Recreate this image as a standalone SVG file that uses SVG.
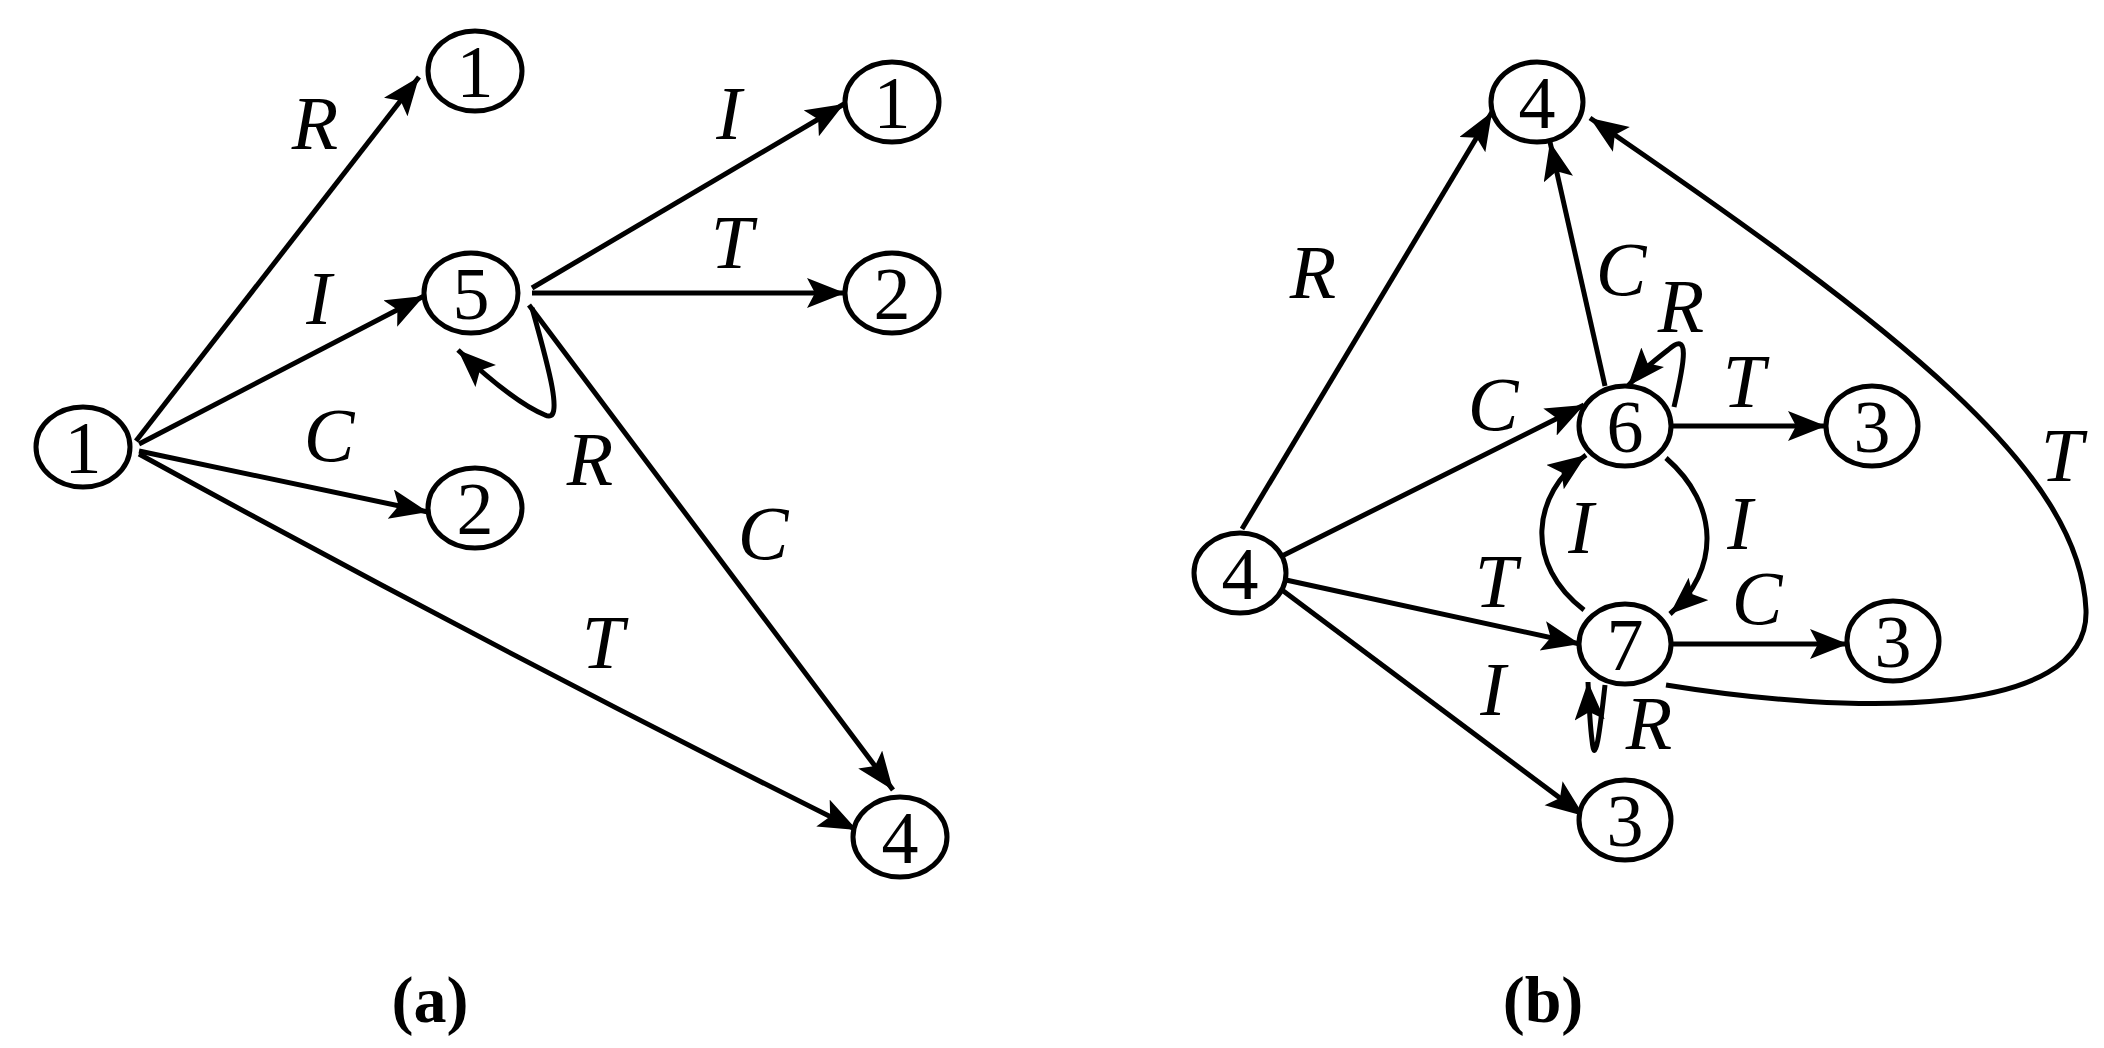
<svg xmlns="http://www.w3.org/2000/svg" width="2104" height="1048" viewBox="0 0 2104 1048">
<style>
.n ellipse{fill:#fff;stroke:#000;stroke-width:5}
.n text,.d{font-family:"Liberation Serif",serif;font-size:74px;text-anchor:middle}
.l{font-family:"Liberation Serif",serif;font-style:italic;font-size:76px;text-anchor:middle}
.cap{font-family:"Liberation Serif",serif;font-weight:bold;font-size:66px;text-anchor:middle}
#edges path{fill:none;stroke:#000;stroke-width:5;marker-end:url(#ah)}
</style>
<defs>
<marker id="ah" markerUnits="userSpaceOnUse" markerWidth="40" markerHeight="32" refX="38" refY="15" orient="auto">
<path d="M0,0 L38,15 L0,30 L8,15 Z" fill="#000"/>
</marker>
</defs>
<rect width="2104" height="1048" fill="#fff"/>
<g id="edges">
<path d="M136,441 L419,77"/>
<path d="M139,444 L424,296"/>
<path d="M139,451 L428,512"/>
<path d="M139,454 Q500,652 857,830"/>
<path d="M532,288 L844,104"/>
<path d="M532,293 L845,293"/>
<path d="M529,305 L893,790"/>
<path d="M532,308 C548,365 565,425 545,415 C520,405 490,380 458,350"/>
<path d="M1242,529 L1492,112"/>
<path d="M1605,386 L1550,142"/>
<path d="M1666,685 C1850,715 2090,720 2086,610 C2080,470 1900,330 1590,118"/>
<path d="M1282,556 L1584,405"/>
<path d="M1669,426 L1826,426"/>
<path d="M1286,580 L1580,644"/>
<path d="M1282,590 L1584,816"/>
<path d="M1669,644 L1848,644"/>
<path d="M1584,610 C1525,565 1530,495 1586,455"/>
<path d="M1666,458 C1720,505 1720,570 1670,614"/>
<path d="M1674,407 C1685,360 1690,330 1668,350 C1655,360 1640,372 1628,386"/>
<path d="M1605,685 C1600,730 1595,770 1592,740 C1590,725 1589,705 1588,682"/>
</g>
<g id="a1" class="n"><ellipse cx="83" cy="447" rx="47" ry="40"/><text x="83" y="473">1</text></g>
<g id="a1t" class="n"><ellipse cx="475" cy="71" rx="47" ry="40"/><text x="475" y="97">1</text></g>
<g id="a5" class="n"><ellipse cx="471" cy="293" rx="47" ry="40"/><text x="471" y="319">5</text></g>
<g id="a2" class="n"><ellipse cx="475" cy="508" rx="47" ry="40"/><text x="475" y="534">2</text></g>
<g id="a1r" class="n"><ellipse cx="892" cy="102" rx="47" ry="40"/><text x="892" y="128">1</text></g>
<g id="a2r" class="n"><ellipse cx="892" cy="293" rx="47" ry="40"/><text x="892" y="319">2</text></g>
<g id="a4" class="n"><ellipse cx="900" cy="837" rx="47" ry="40"/><text x="900" y="863">4</text></g>
<g id="b4t" class="n"><ellipse cx="1537" cy="102" rx="46" ry="40"/><text x="1537" y="128">4</text></g>
<g id="b4" class="n"><ellipse cx="1240" cy="573" rx="46" ry="40"/><text x="1240" y="599">4</text></g>
<g id="b6" class="n"><ellipse cx="1625" cy="426" rx="46" ry="40"/><text x="1625" y="452">6</text></g>
<g id="b3a" class="n"><ellipse cx="1872" cy="426" rx="46" ry="40"/><text x="1872" y="452">3</text></g>
<g id="b7" class="n"><ellipse cx="1625" cy="644" rx="46" ry="40"/><text x="1625" y="670">7</text></g>
<g id="b3b" class="n"><ellipse cx="1893" cy="641" rx="46" ry="40"/><text x="1893" y="667">3</text></g>
<g id="b3c" class="n"><ellipse cx="1625" cy="820" rx="46" ry="40"/><text x="1625" y="846">3</text></g>
<g id="labels">
<text class="l" x="315" y="149">R</text>
<text class="l" x="319" y="324">I</text>
<text class="l" x="329" y="461">C</text>
<text class="l" x="603" y="668">T</text>
<text class="l" x="590" y="485">R</text>
<text class="l" x="763" y="559">C</text>
<text class="l" x="729" y="139">I</text>
<text class="l" x="732" y="268">T</text>
<text class="l" x="1313" y="298">R</text>
<text class="l" x="1621" y="295">C</text>
<text class="l" x="1681" y="332">R</text>
<text class="l" x="1744" y="407">T</text>
<text class="l" x="1493" y="430">C</text>
<text class="l" x="2062" y="481">T</text>
<text class="l" x="1581" y="553">I</text>
<text class="l" x="1740" y="549">I</text>
<text class="l" x="1496" y="607">T</text>
<text class="l" x="1757" y="624">C</text>
<text class="l" x="1493" y="715">I</text>
<text class="l" x="1649" y="749">R</text>
<text class="cap" x="430" y="1022">(a)</text>
<text class="cap" x="1543" y="1022">(b)</text>
</g>
</svg>
